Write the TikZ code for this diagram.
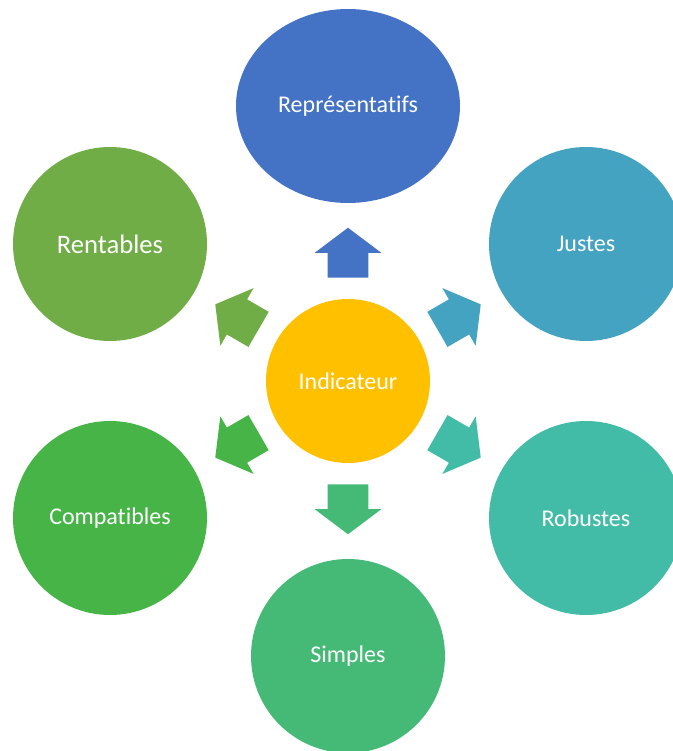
\documentclass[tikz,border=0pt]{standalone}
\usepackage{fontspec}
\setmainfont{Carlito}[Ligatures={NoCommon,NoContextual}]
\usetikzlibrary{shapes.geometric,shapes.arrows,calc}

\definecolor{cind}{HTML}{FFC000}
\definecolor{crep}{HTML}{4472C4}
\definecolor{cjus}{HTML}{44A3C1}
\definecolor{crob}{HTML}{42BCA7}
\definecolor{csim}{HTML}{45BA76}
\definecolor{ccom}{HTML}{46B447}
\definecolor{cren}{HTML}{70AD47}

\begin{document}
\begin{tikzpicture}[x=0.75pt,y=0.75pt,
  bulle/.style={circle,fill=#1,text=white,inner sep=0pt,minimum size=145.5pt,font=\fontsize{18}{22}\selectfont},
  fleche/.style={single arrow,fill=#1,inner xsep=0pt,inner ysep=15pt,minimum height=37.5pt,
    single arrow head extend=9.75pt,single arrow tip angle=106,anchor=tail}]
\useasboundingbox (0,0) rectangle (673,751);

\node[bulle=cind,minimum size=123pt] (ind) at (348,370) {Indicateur};

\node[bulle=crep,ellipse,minimum width=168pt,minimum height=145.5pt] (rep) at (348,645) {Représentatifs};
\node[bulle=cjus] (jus) at (586,507) {Justes};
\node[bulle=crob] (rob) at (586,233) {Robustes};
\node[bulle=csim] (sim) at (348,95) {Simples};
\node[bulle=ccom] (com) at (110,233) {Compatibles};
\node[bulle=cren,font=\fontsize{20}{24}\selectfont] (ren) at (110,507) {Rentables};

\foreach \n/\a in {rep/90,jus/30,rob/-30,sim/-90,com/210,ren/150}
  \node[fleche=c\n,rotate=\a] (f\n) at ($(ind)+(\a:103)$) {};

\end{tikzpicture}
\end{document}
